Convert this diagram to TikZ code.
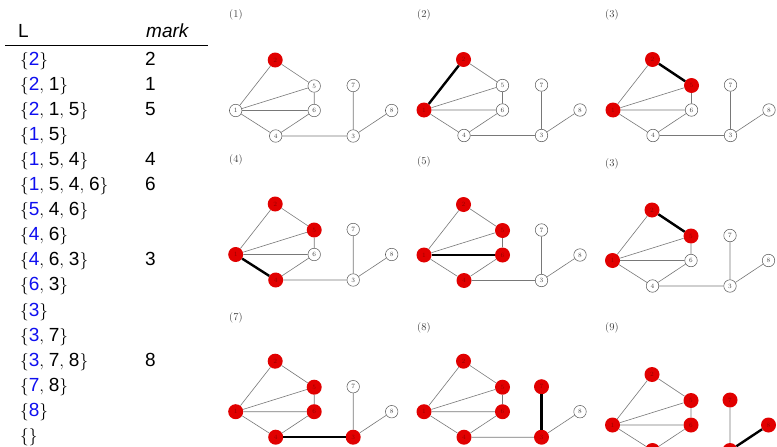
\documentclass[tikz,border=0pt]{standalone}
\usepackage{fontspec}
\newfontfamily\tabfont{Liberation Sans}
\definecolor{vred}{RGB}{225,0,0}
\definecolor{vredtxt}{RGB}{150,0,0}
\definecolor{setblue}{RGB}{15,15,240}
\definecolor{edgegray}{RGB}{120,120,120}
\newcommand\lb{$\{$}
\newcommand\rb{$\}$}
\newcommand\sepc{$,\;$}
\newcommand\bl[1]{\textcolor{setblue}{#1}}
\tikzset{
  tabtxt/.style={anchor=base west, inner sep=0pt, font=\tabfont\fontsize{19}{19}\selectfont},
  plabel/.style={anchor=west, inner sep=0pt, text=black!75, font=\fontsize{10.5}{10.5}\selectfont},
  vtx/.style={circle, draw=black!65, line width=0.5pt, fill=white, minimum size=12.5pt, inner sep=0pt, text=black!75, font=\fontsize{6.5}{6.5}\selectfont},
  vrednode/.style={circle, draw=none, fill=vred, minimum size=15pt, inner sep=0pt, text=vredtxt, font=\fontsize{6.5}{6.5}\selectfont},
  edg/.style={draw=edgegray, line width=0.6pt},
  hot/.style={draw=black, line width=2.4pt},
}
% #1 prefix, #2 x, #3 y of vertex 1, #4 list of red vertices
\newcommand\gpanel[4]{%
  \begin{scope}[shift={(#2,#3)}]
    \node[vtx] (#1-1) at (0,0) {1};
    \node[vtx] (#1-2) at (39.5,-50.5) {2};
    \node[vtx] (#1-5) at (78.5,-24.5) {5};
    \node[vtx] (#1-7) at (117.5,-25) {7};
    \node[vtx] (#1-6) at (78.5,0) {6};
    \node[vtx] (#1-8) at (156,0) {8};
    \node[vtx] (#1-4) at (40,25.5) {4};
    \node[vtx] (#1-3) at (117.5,25.5) {3};
    \foreach \r in {#4} {\node[vrednode] (#1-\r) at (#1-\r) {\r};}
  \end{scope}
  \draw[edg] (#1-2)--(#1-1) (#1-2)--(#1-5) (#1-1)--(#1-5) (#1-1)--(#1-6)
    (#1-1)--(#1-4) (#1-5)--(#1-6) (#1-6)--(#1-4) (#1-4)--(#1-3)
    (#1-3)--(#1-7) (#1-3)--(#1-8);
}
\begin{document}
\begin{tikzpicture}[x=1pt,y=-1pt]
\useasboundingbox (0,0) rectangle (777,447);
\clip (0,0) rectangle (777,447);
\fill[white] (0,0) rectangle (777,447);
% ---- table ----
\node[tabtxt] (hL) at (18,37) {L};
\node[tabtxt] (hM) at (146,37) {\itshape mark};
\coordinate (ruleA) at (5,45);
\coordinate (ruleB) at (208,45);
\draw[line width=0.9pt] (ruleA) -- (ruleB);
\node[tabtxt] (r1)  at (20,65.0)  {\lb\bl{2}\rb};
\node[tabtxt] (r2)  at (20,90.1)  {\lb\bl{2}\sepc1\rb};
\node[tabtxt] (r3)  at (20,115.2) {\lb\bl{2}\sepc1\sepc5\rb};
\node[tabtxt] (r4)  at (20,140.3) {\lb\bl{1}\sepc5\rb};
\node[tabtxt] (r5)  at (20,165.4) {\lb\bl{1}\sepc5\sepc4\rb};
\node[tabtxt] (r6)  at (20,190.5) {\lb\bl{1}\sepc5\sepc4\sepc6\rb};
\node[tabtxt] (r7)  at (20,215.6) {\lb\bl{5}\sepc4\sepc6\rb};
\node[tabtxt] (r8)  at (20,240.7) {\lb\bl{4}\sepc6\rb};
\node[tabtxt] (r9)  at (20,265.8) {\lb\bl{4}\sepc6\sepc3\rb};
\node[tabtxt] (r10) at (20,290.9) {\lb\bl{6}\sepc3\rb};
\node[tabtxt] (r11) at (20,316.0) {\lb\bl{3}\rb};
\node[tabtxt] (r12) at (20,341.1) {\lb\bl{3}\sepc7\rb};
\node[tabtxt] (r13) at (20,366.2) {\lb\bl{3}\sepc7\sepc8\rb};
\node[tabtxt] (r14) at (20,391.3) {\lb\bl{7}\sepc8\rb};
\node[tabtxt] (r15) at (20,416.4) {\lb\bl{8}\rb};
\node[tabtxt] (r16) at (20,441.5) {\lb\rb};
\node[tabtxt] (m1)  at (145,65.0)  {2};
\node[tabtxt] (m2)  at (145,90.1)  {1};
\node[tabtxt] (m3)  at (145,115.2) {5};
\node[tabtxt] (m5)  at (145,165.4) {4};
\node[tabtxt] (m6)  at (145,190.5) {6};
\node[tabtxt] (m9)  at (145,265.8) {3};
\node[tabtxt] (m13) at (145,366.2) {8};
% ---- panels ----
\node[plabel] (l1) at (229,15) {(1)};
\node[plabel] (l2) at (417,15) {(2)};
\node[plabel] (l3) at (605,15) {(3)};
\node[plabel] (l4) at (229,160) {(4)};
\node[plabel] (l5) at (417,162) {(5)};
\node[plabel] (l6) at (605,164) {(3)};
\node[plabel] (l7) at (229,318) {(7)};
\node[plabel] (l8) at (417,328) {(8)};
\node[plabel] (l9) at (605,328) {(9)};
\gpanel{a}{235.7}{110.5}{2}
\gpanel{b}{424}{110}{2,1}
\draw[hot] (b-2) -- (b-1);
\gpanel{c}{613}{110}{2,5,1}
\draw[hot] (c-2) -- (c-5);
\gpanel{d}{235.7}{254.5}{2,5,1,4}
\draw[hot] (d-1) -- (d-4);
\gpanel{e}{424}{255}{2,5,1,6,4}
\draw[hot] (e-1) -- (e-6);
\gpanel{f}{612.5}{260.5}{2,5,1}
\draw[hot] (f-2) -- (f-5);
\gpanel{g}{235.7}{411.7}{2,5,1,6,4,3}
\draw[hot] (g-4) -- (g-3);
\gpanel{h}{424}{411.7}{2,5,1,6,4,3,7}
\draw[hot] (h-3) -- (h-7);
\gpanel{i}{612.5}{425}{1,2,3,4,5,6,7,8}
\draw[hot] (i-3) -- (i-8);
\end{tikzpicture}
\end{document}
